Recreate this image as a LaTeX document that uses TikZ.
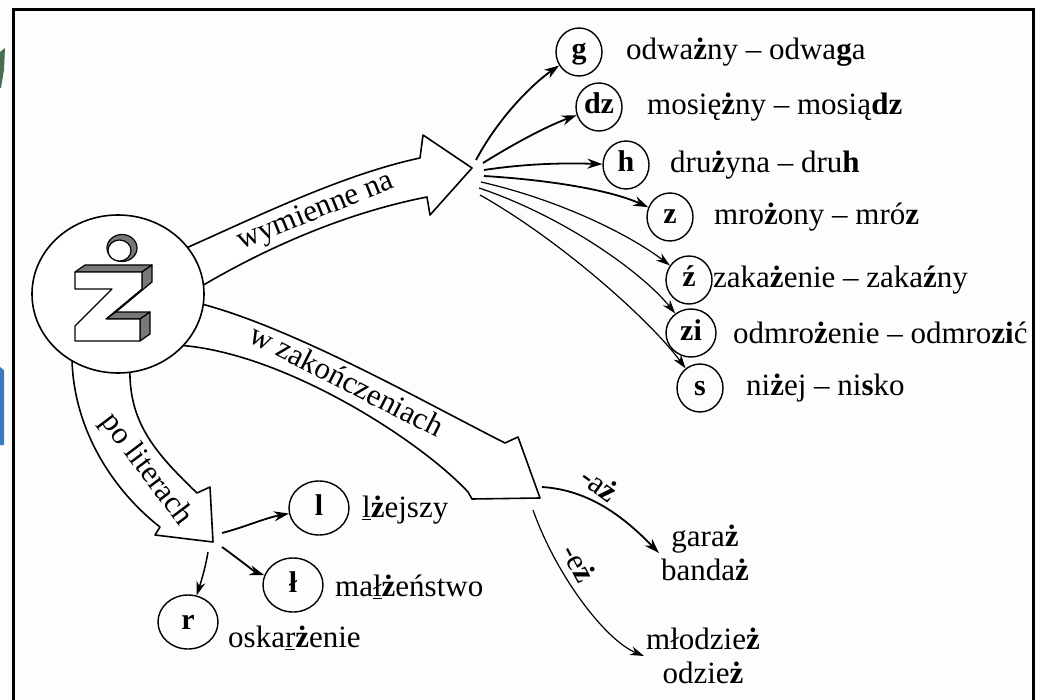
\documentclass[tikz,border=0pt]{standalone}
\usepackage{fontspec}
\setmainfont{Liberation Serif}
\usetikzlibrary{shapes.geometric,arrows.meta}
\definecolor{paper}{RGB}{253,253,253}
\definecolor{hatch}{RGB}{120,120,120}
\definecolor{leafgreen}{RGB}{70,110,80}
\definecolor{skyblue}{RGB}{60,120,190}
\begin{document}
\begin{tikzpicture}[x=1pt,y=-1pt,font=\fontsize{31}{34}\selectfont,
  bigarrow/.style={draw,line width=1.6pt,fill=white,line join=round},
  lett/.style={ellipse,draw,line width=1.4pt,inner sep=0pt,minimum width=46pt,minimum height=48pt,text height=20pt,text depth=6pt,font=\fontsize{30}{33}\selectfont\bfseries},
  biglett/.style={ellipse,draw,line width=1.4pt,inner sep=0pt,minimum width=60pt,minimum height=54pt,text height=20pt,text depth=6pt,font=\fontsize{30}{33}\selectfont\bfseries},
  word/.style={anchor=west,inner sep=0pt},
  pair/.style={align=center,inner sep=2pt},
  fanarrow/.style={-{Stealth[length=15pt,width=10pt]},line width=1.8pt},
  thinarrow/.style={-{Stealth[length=14pt,width=9pt]},line width=1.2pt},
  lab/.style={inner sep=0pt}]
\useasboundingbox (0,0) rectangle (1040,700);
\fill[paper] (0,0) rectangle (1040,700);
% edge artifacts
\fill[leafgreen] (0,52) -- (5,48) -- (4,70) -- (1,88) -- (0,88) -- cycle;
\fill[skyblue] (0,367) -- (4,370) -- (4,445) -- (0,445) -- cycle;
% frame
\draw[line width=3pt] (13,10) rectangle (1033,720);

% block arrows
\draw[bigarrow] (175,253) .. controls (250,220) and (340,175) .. (420,158) -- (423,135) -- (472,168) -- (430,215) -- (427,197) .. controls (350,212) and (270,245) .. (195,290) -- cycle;
\draw[bigarrow] (185,300) .. controls (280,320) and (420,400) .. (505,443) -- (518,437) -- (540,498) -- (472,499) -- (468,492) .. controls (420,440) and (280,350) .. (175,345) -- cycle;
\draw[bigarrow] (72,360) .. controls (74,432) and (115,492) .. (160,527) -- (155,535) -- (213,542) -- (210,487) -- (197,493) .. controls (152,450) and (128,420) .. (130,365) -- cycle;

\node[lab,rotate=22] (wym) at (316,212) {wymienne na};
\node[lab,rotate=-27] (wzak) at (347,380) {w zakończeniach};
\node[lab,rotate=-53] (polit) at (146,470) {po literach};

% main circle with the letter
\node[ellipse,draw,line width=1.6pt,fill=white,minimum width=172pt,minimum height=158pt] (main) at (118,294) {};
\begin{scope}[line width=1.2pt,line join=round]
\filldraw[fill=hatch] (75,272) -- (142,272) -- (152,265) -- (85,265) -- cycle;
\filldraw[fill=hatch] (142,272) -- (152,265) -- (152,282) -- (116,312) -- (106,319) -- (142,289) -- cycle;
\filldraw[fill=hatch] (106,319) -- (140,319) -- (150,312) -- (116,312) -- cycle;
\filldraw[fill=hatch] (140,319) -- (150,312) -- (150,334) -- (140,341) -- cycle;
\filldraw[fill=white] (75,272) -- (142,272) -- (142,289) -- (106,319) -- (140,319) -- (140,341) -- (75,341) -- (75,326) -- (112,289) -- (75,289) -- cycle;
\filldraw[fill=hatch] (122,248) ellipse [x radius=15pt,y radius=13.5pt];
\filldraw[fill=white] (119.5,250.5) ellipse [x radius=11.5pt,y radius=10.5pt];
\end{scope}

% right group
\node[lett] (gC) at (579,52) {g};
\node[lett] (dzC) at (599,107) {dz};
\node[lett] (hC) at (626,165) {h};
\node[lett] (zC) at (670,217) {z};
\node[lett] (zaC) at (689,280) {ź};
\node[lett,minimum width=50pt] (ziC) at (691,333) {zi};
\node[lett] (sC) at (700,388) {s};

\node[word] (gW) at (626,52) {odwa\textbf{ż}ny – odwa\textbf{g}a};
\node[word] (dzW) at (647,107) {mosię\textbf{ż}ny – mosią\textbf{dz}};
\node[word] (hW) at (670,165) {dru\textbf{ż}yna – dru\textbf{h}};
\node[word] (zW) at (714,217) {mro\textbf{ż}ony – mró\textbf{z}};
\node[word] (zaW) at (713,280) {zaka\textbf{ż}enie – zaka\textbf{ź}ny};
\node[word] (ziW) at (733,333) {odmro\textbf{ż}enie – odmro\textbf{zi}ć};
\node[word] (sW) at (746,388) {ni\textbf{ż}ej – ni\textbf{s}ko};

\coordinate (f1) at (476,160);
\coordinate (f2) at (483,163);
\coordinate (f3) at (484,170);
\coordinate (f4) at (484,176);
\coordinate (f5) at (481,182);
\coordinate (f6) at (479,188);
\coordinate (f7) at (480,195);
\draw[fanarrow] (f1) .. controls (500,115) and (535,82) .. (gC);
\draw[fanarrow] (f2) .. controls (520,140) and (550,125) .. (dzC);
\draw[fanarrow] (f3) .. controls (530,163) and (570,163) .. (hC);
\draw[fanarrow] (f4) .. controls (550,180) and (610,190) .. (zC);
\draw[thinarrow] (f5) .. controls (560,200) and (630,235) .. (zaC);
\draw[thinarrow] (f6) .. controls (560,215) and (640,270) .. (ziC);
\draw[thinarrow] (f7) .. controls (560,240) and (650,320) .. (sC);

% bottom-left group
\node[biglett] (lC) at (319,508) {l};
\node[biglett] (lyC) at (293,585) {ł};
\node[biglett] (rC) at (188,622) {r};
\node[word] (lW) at (362,510) {\underline{l}\textbf{ż}ejszy};
\node[word] (lyW) at (335,587) {ma\underline{ł}\textbf{ż}eństwo};
\node[word] (rW) at (228,638) {oska\underline{r}\textbf{ż}enie};
\coordinate (p1) at (222,533);
\coordinate (p2) at (222,547);
\coordinate (p3) at (208,552);
\draw[fanarrow] (p1) .. controls (245,527) and (265,518) .. (lC);
\draw[fanarrow] (p2) .. controls (240,560) and (255,572) .. (lyC);
\draw[thinarrow,line width=1.5pt] (p3) .. controls (205,570) and (200,585) .. (rC);

% endings group
\node[pair] (az) at (705,553) {gara\textbf{ż}\\banda\textbf{ż}};
\node[pair] (ez) at (703,656) {młodzie\textbf{ż}\\odzie\textbf{ż}};
\coordinate (a1) at (542,487);
\coordinate (a2) at (533,510);
\draw[fanarrow] (a1) .. controls (590,490) and (625,518) .. (az.west);
\draw[thinarrow] (a2) .. controls (556,575) and (605,640) .. (ez.west);
\node[lab,rotate=-36] (azl) at (600,484) {-a\textbf{ż}};
\node[lab,rotate=-62] (ezl) at (579,563) {-e\textbf{ż}};
\end{tikzpicture}
\end{document}
